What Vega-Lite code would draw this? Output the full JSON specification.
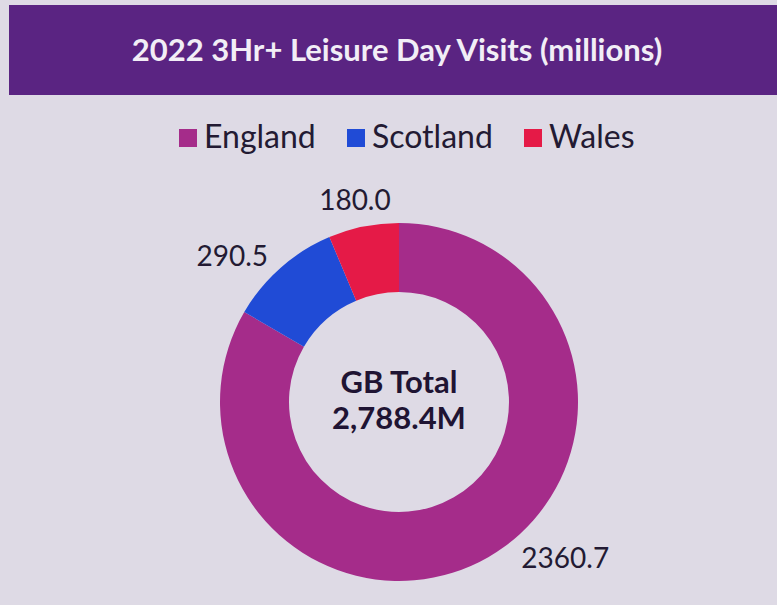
{
  "$schema": "https://vega.github.io/schema/vega-lite/v6.json",
  "background": "#dedae5",
  "padding": {"left": 9, "top": 5, "right": 0, "bottom": 0},
  "spacing": 0,
  "config": {"view": {"stroke": null}, "font": "Lato"},
  "resolve": {"legend": {"color": "independent"}, "scale": {"color": "independent"}},
  "datasets": {
    "visits": [
      {"region": "England", "visits": 2360.7},
      {"region": "Scotland", "visits": 290.5},
      {"region": "Wales", "visits": 180.0}
    ],
    "header": [{"title": "2022 3Hr+ Leisure Day Visits (millions)"}],
    "centre": [{"label": "GB Total\n2,788.4M"}]
  },
  "vconcat": [
    {
      "width": 780,
      "height": 90,
      "view": {"fill": "#5a2482", "stroke": null},
      "data": {"name": "header"},
      "mark": {"type": "text", "font": "Lato", "fontWeight": "bold", "fontSize": 31, "color": "#f2eef6", "baseline": "middle", "align": "center", "dx": -2, "dy": 2},
      "encoding": {"text": {"field": "title", "type": "nominal"}}
    },
    {
      "width": 780,
      "height": 400,
      "data": {"name": "visits"},
      "layer": [
        {
          "mark": {"type": "arc", "innerRadius": 110, "outerRadius": 179, "stroke": null},
          "encoding": {
            "theta": {"field": "visits", "type": "quantitative", "stack": true},
            "order": {"field": "region", "type": "ordinal", "sort": "ascending"},
            "color": {
              "field": "region",
              "type": "nominal",
              "scale": {"domain": ["England", "Scotland", "Wales"], "range": ["#a52c8a", "#204bd6", "#e51a47"]},
              "legend": {
                "orient": "none",
                "legendX": 136,
                "legendY": -107,
                "direction": "horizontal",
                "title": null,
                "symbolType": "square",
                "symbolSize": 324,
                "symbolStrokeWidth": 0,
                "labelFont": "Lato",
                "labelFontSize": 32,
                "labelColor": "#231a33",
                "labelOffset": 0,
                "columnPadding": 24,
                "padding": 27
              }
            }
          }
        },
        {
          "mark": {"type": "text", "radius": 207, "font": "Lato", "fontSize": 28, "color": "#231a33", "dx": 63, "dy": -21},
          "encoding": {
            "theta": {"field": "visits", "type": "quantitative", "stack": true},
            "order": {"field": "region", "type": "ordinal", "sort": "ascending"},
            "text": {"condition": {"test": "datum.region === 'England'", "field": "visits", "type": "quantitative", "format": ".1f"}, "value": ""}
          }
        },
        {
          "mark": {"type": "text", "radius": 207, "font": "Lato", "fontSize": 28, "color": "#231a33", "dx": -30, "dy": 11},
          "encoding": {
            "theta": {"field": "visits", "type": "quantitative", "stack": true},
            "order": {"field": "region", "type": "ordinal", "sort": "ascending"},
            "text": {"condition": {"test": "datum.region === 'Scotland'", "field": "visits", "type": "quantitative", "format": ".1f"}, "value": ""}
          }
        },
        {
          "mark": {"type": "text", "radius": 207, "font": "Lato", "fontSize": 28, "color": "#231a33", "dx": -3, "dy": 3},
          "encoding": {
            "theta": {"field": "visits", "type": "quantitative", "stack": true},
            "order": {"field": "region", "type": "ordinal", "sort": "ascending"},
            "text": {"condition": {"test": "datum.region === 'Wales'", "field": "visits", "type": "quantitative", "format": ".1f"}, "value": ""}
          }
        },
        {
          "data": {"name": "centre"},
          "mark": {"type": "text", "font": "Lato", "fontSize": 31, "fontWeight": "bold", "lineBreak": "\n", "lineHeight": 36, "color": "#1f1433", "baseline": "middle", "align": "center", "dy": -18},
          "encoding": {"text": {"field": "label", "type": "nominal"}}
        }
      ]
    }
  ]
}
